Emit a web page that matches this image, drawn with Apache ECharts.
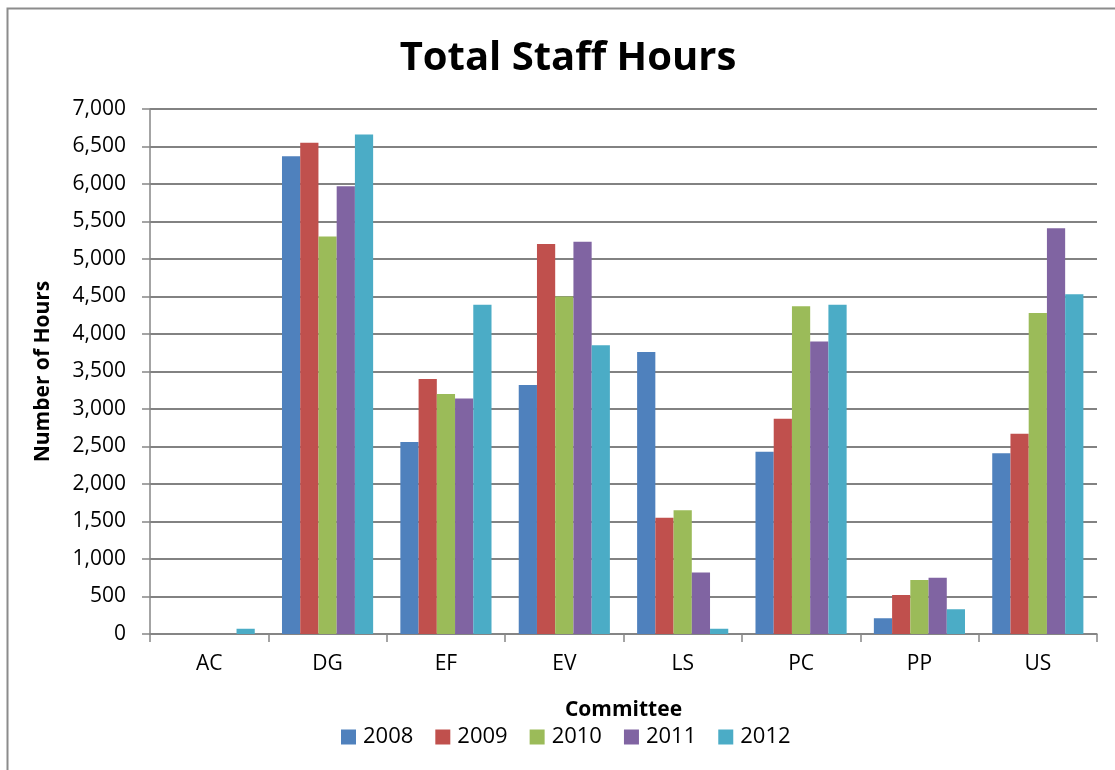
<!DOCTYPE html>
<html>
<head>
<meta charset="utf-8">
<script src="https://cdn.jsdelivr.net/npm/echarts@6/dist/echarts.min.js"></script>
<style>html,body{margin:0;padding:0;background:#fff}#c{width:1115px;height:770px}</style>
</head>
<body>
<div id="c"></div>
<script>
const categories = ['AC','DG','EF','EV','LS','PC','PP','US'];
const years = ['2008','2009','2010','2011','2012'];
const v2008 = [0, 6370, 2560, 3320, 3760, 2430, 210, 2410];
const v2009 = [0, 6550, 3400, 5200, 1550, 2870, 520, 2670];
const v2010 = [0, 5300, 3200, 4500, 1650, 4370, 720, 4280];
const v2011 = [0, 5970, 3140, 5230, 820, 3900, 750, 5410];
const v2012 = [70, 6660, 4390, 3850, 70, 4390, 330, 4530];
const seriesValues = [v2008, v2009, v2010, v2011, v2012];
const colors = ['#4F81BD','#C0504D','#9BBB59','#8064A2','#4BACC6'];

const chart = echarts.init(document.getElementById('c'));
const font = 'Open Sans';
chart.setOption({
  animation: false,
  color: colors,
  graphic: [{
    type: 'rect', left: 5, top: 6, z: -10,
    shape: { x: 0, y: 0, width: 1200, height: 900 },
    style: { fill: 'none', stroke: '#8c8c8c', lineWidth: 2 }
  }],
  title: {
    text: 'Total Staff Hours',
    left: 563, top: 34, textAlign: 'center',
    textStyle: { fontFamily: font, fontWeight: 'bold', fontSize: 40, color: '#000' }
  },
  grid: { left: 150, right: 18, top: 109, bottom: 136, containLabel: false },
  legend: {
    left: 336, top: 721,
    itemWidth: 15, itemHeight: 15, itemGap: 22,
    icon: 'rect',
    textStyle: { fontFamily: font, fontSize: 22, color: '#000', padding: [0,0,0,2] },
    data: years
  },
  xAxis: {
    type: 'category',
    data: categories,
    name: 'Committee',
    nameLocation: 'middle',
    nameGap: 66,
    nameTextStyle: { fontFamily: font, fontWeight: 'bold', fontSize: 21, color: '#000' },
    axisLine: { lineStyle: { color: '#868686', width: 1.5 } },
    axisTick: { show: true, length: 8, lineStyle: { color: '#868686', width: 1.5 } },
    axisLabel: { fontFamily: font, fontSize: 21, color: '#000', margin: 20 }
  },
  yAxis: {
    type: 'value',
    min: 0, max: 7000, interval: 500,
    name: 'Number of Hours',
    nameLocation: 'middle',
    nameGap: 96,
    nameRotate: 90,
    nameTextStyle: { fontFamily: font, fontWeight: 'bold', fontSize: 21, color: '#000' },
    axisLine: { show: true, lineStyle: { color: '#868686', width: 1.5 } },
    axisTick: { show: true, length: 8, lineStyle: { color: '#868686', width: 1.5 } },
    axisLabel: {
      fontFamily: font, fontSize: 21, color: '#000', margin: 24,
      formatter: v => v.toLocaleString('en-US')
    },
    splitLine: { show: true, lineStyle: { color: '#828282', width: 1.8 } }
  },
  series: years.map((y, i) => ({
    name: y,
    type: 'bar',
    data: seriesValues[i],
    barGap: '0%',
    barCategoryGap: '23%',
    itemStyle: { color: colors[i] }
  }))
});
</script>
</body>
</html>
